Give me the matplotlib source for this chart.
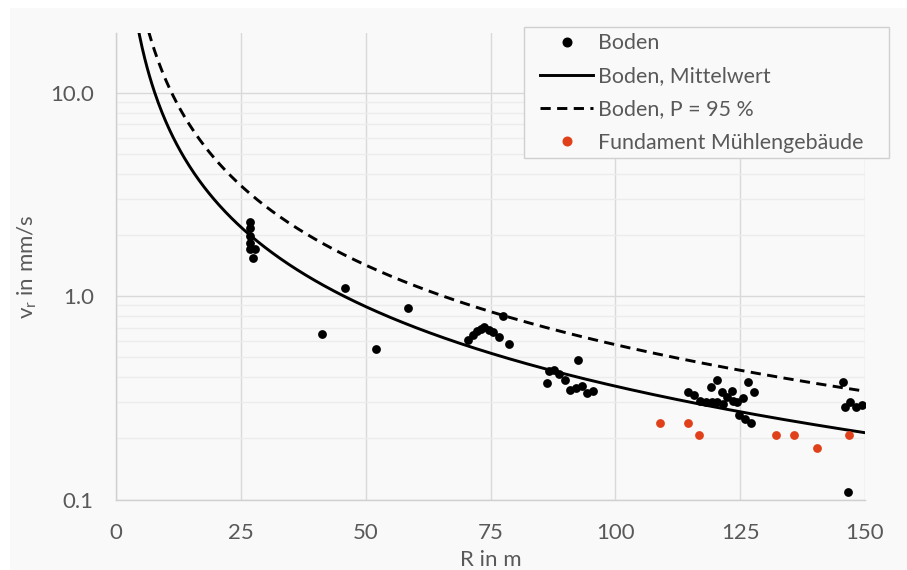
import numpy as np
import matplotlib
matplotlib.use("Agg")
import matplotlib.pyplot as plt
from matplotlib.patches import Rectangle
from matplotlib.lines import Line2D

# --- data -----------------------------------------------------------------
boden_R = [26.9, 26.9, 26.9, 26.8, 26.9, 27.9, 27.5,
           45.9, 41.2, 52.1, 58.5,
           70.4, 71.5, 72.3, 73.1, 73.6, 74.6, 75.6, 76.7, 77.5, 78.8,
           86.3, 86.7, 87.8, 88.8, 90.0, 92.6, 91.0, 92.2, 93.4, 94.4, 95.5,
           114.6, 115.8, 117.0, 118.1, 119.2, 120.3, 119.3, 120.4, 121.3, 121.6,
           122.4, 123.3, 123.6, 124.4, 125.5, 126.5, 127.7, 124.8, 126.0, 127.2,
           145.5, 146.0, 147.0, 148.2, 149.3, 146.5]
boden_v = [2.32, 2.17, 1.98, 1.83, 1.70, 1.70, 1.54,
           1.095, 0.650, 0.548, 0.873,
           0.609, 0.647, 0.677, 0.692, 0.703, 0.683, 0.670, 0.632, 0.802, 0.582,
           0.375, 0.430, 0.433, 0.414, 0.387, 0.486, 0.345, 0.352, 0.362, 0.335, 0.343,
           0.337, 0.325, 0.306, 0.300, 0.359, 0.387, 0.300, 0.300, 0.337, 0.296,
           0.319, 0.341, 0.305, 0.300, 0.315, 0.377, 0.337, 0.260, 0.248, 0.238,
           0.378, 0.286, 0.303, 0.286, 0.291, 0.109]

fund_R = [109.0, 114.6, 116.8, 132.2, 135.7, 140.4, 146.7]
fund_v = [0.239, 0.239, 0.208, 0.208, 0.208, 0.179, 0.208]

# power-law fit parameters v = a * R^(-b)
mean_a, mean_b = 143.7, 1.30
p95_factor = 1.60

x_ticks = [0, 25, 50, 75, 100, 125, 150]
y_ticks = [0.1, 1.0, 10.0]
y_ticklabels = ["0.1", "1.0", "10.0"]
legend_labels = ['Boden', 'Boden, Mittelwert', 'Boden, P = 95 %', 'Fundament Mühlengebäude']

# --- figure ---------------------------------------------------------------
plt.rcParams['font.family'] = ['Lato', 'DejaVu Sans']
txt = '#595959'
bg = '#f9f9f9'
red = '#e0411a'
FS = 16

fig = plt.figure(figsize=(9.07, 5.70), dpi=100, facecolor='white')
fig.patches.append(Rectangle((10/907, 0), 1 - 10/907, 1 - 8/570,
                             transform=fig.transFigure, facecolor=bg,
                             edgecolor='none', zorder=-10))
ax = fig.add_axes([116/907, 1 - 499.5/570, (865-116)/907, (499.5-33)/570])
ax.set_facecolor(bg)

ax.set_yscale('log')
ax.set_xlim(0, 150)
ax.set_ylim(0.1, 19.7)

R = np.linspace(1, 150, 600)
v_mean = mean_a * R ** (-mean_b)
v_95 = p95_factor * v_mean

dash = (0, (3.5, 2.2))
ax.plot(R, v_mean, color='black', lw=2.1, zorder=3)
ax.plot(R, v_95, color='black', lw=2.1, ls=dash, zorder=3)
ax.scatter(boden_R, boden_v, s=40, color='black', zorder=4, linewidths=0)
ax.scatter(fund_R, fund_v, s=40, color=red, zorder=4, linewidths=0)

# grid
ax.set_xticks(x_ticks)
ax.set_yticks(y_ticks)
ax.set_yticklabels(y_ticklabels)
ax.yaxis.set_minor_locator(matplotlib.ticker.LogLocator(base=10, subs=np.arange(2, 10)))
ax.yaxis.set_minor_formatter(matplotlib.ticker.NullFormatter())
ax.grid(True, which='major', color='#d9d9d9', lw=1.0, zorder=0)
ax.grid(True, which='minor', axis='y', color='#ececec', lw=1.0, zorder=0)
ax.set_axisbelow(True)

for s in ['top', 'right']:
    ax.spines[s].set_visible(False)
for s in ['left', 'bottom']:
    ax.spines[s].set_color('#d0d0d0')
    ax.spines[s].set_linewidth(1.0)

ax.tick_params(axis='both', which='both', length=0, labelsize=FS, colors=txt)
ax.tick_params(axis='y', pad=16)
ax.tick_params(axis='x', pad=17)

ax.set_xlabel('R in m', fontsize=FS, color=txt, labelpad=5)
ax.set_ylabel(r'v$_\mathregular{r}$ in mm/s', fontsize=FS, color=txt, labelpad=8)

# legend (box drawn separately)
fig.patches.append(Rectangle((524/907, 1 - 158/570), (889-524)/907, (158-27)/570,
                             transform=fig.transFigure, facecolor=bg,
                             edgecolor='#d0d0d0', lw=1.0, zorder=5))
handles = [
    Line2D([], [], marker='o', ls='none', color='black', markersize=6.2),
    Line2D([], [], color='black', lw=2.1),
    Line2D([], [], color='black', lw=2.1, ls=dash),
    Line2D([], [], marker='o', ls='none', color=red, markersize=6.2),
]
leg = fig.legend(handles, legend_labels, loc='upper left',
                 bbox_to_anchor=(540/907, 1 - 33/570), fontsize=15.4,
                 frameon=False, handlelength=2.5, handletextpad=0.2,
                 borderpad=0, labelspacing=0.62, borderaxespad=0)
leg.set_zorder(6)
for t in leg.get_texts():
    t.set_color(txt)

fig.savefig('out.png', dpi=100, facecolor='white')
